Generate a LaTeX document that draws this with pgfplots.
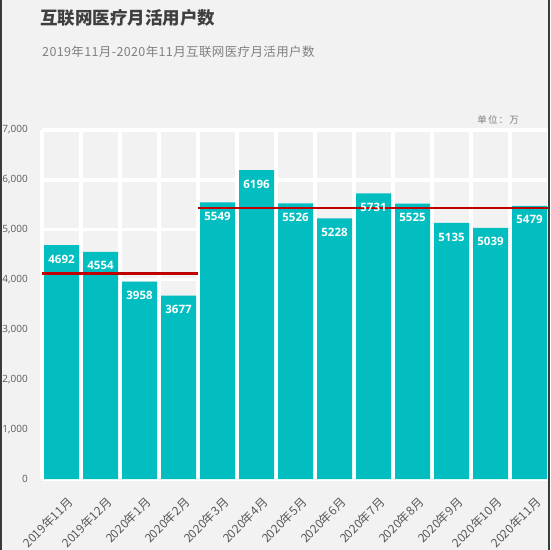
\documentclass[border=0pt]{standalone}
\usepackage{fontspec}
\usepackage{pgfplots}
\pgfplotsset{compat=1.18}
\setmainfont{Open Sans}
\newfontfamily\cjk{Noto Sans CJK SC}
\newfontfamily\cjksp{Noto Sans CJK SC}[LetterSpace=3]
\newfontfamily\cjkunit{Noto Sans CJK SC}[LetterSpace=12]
\definecolor{bg}{HTML}{F2F2F2}
\definecolor{barc}{HTML}{03BEC1}
\definecolor{redl}{HTML}{C00000}
\definecolor{tickc}{HTML}{595959}
\definecolor{subc}{HTML}{808080}
\definecolor{titc}{HTML}{3F3F3F}
\definecolor{frame}{HTML}{3A3A3A}
\begin{document}
\begin{tikzpicture}
\fill[bg] (0,0) rectangle (550pt,550pt);
\begin{axis}[
  at={(42pt,71pt)}, anchor=south west,
  scale only axis, width=507pt, height=349pt,
  xmin=-0.5, xmax=12.5, ymin=0, ymax=7000,
  axis line style={draw=none},
  major tick length=0pt, minor tick length=0pt,
  xtick={0,...,12},
  xticklabels={2019年11月,2019年12月,2020年1月,2020年2月,2020年3月,2020年4月,2020年5月,2020年6月,2020年7月,2020年8月,2020年9月,2020年10月,2020年11月},
  minor xtick={-0.5,0.5,...,12.5},
  ytick={0,1000,...,7000},
  xminorgrids, ymajorgrids,
  major grid style={white, line width=3.5pt},
  minor grid style={white, line width=3.5pt},
  scaled y ticks=false,
  /pgf/number format/assume math mode=true,
  yticklabel style={/pgf/number format/1000 sep={,}, font=\fontsize{10}{12}\selectfont, text=tickc, anchor=east, inner sep=0pt, xshift=-14pt},
  xticklabel style={font=\cjk\fontsize{12}{14}\selectfont, text=tickc, inner sep=0pt, xshift=5pt, yshift=-17pt, rotate=45, anchor=north east},
]
\addplot[ybar, bar width=35pt, fill=barc, draw=none,
  nodes near coords={\pgfmathprintnumber[1000 sep={}]{\pgfplotspointmeta}},
  nodes near coords style={anchor=north, inner sep=0pt, yshift=-9.5pt, text=white, font=\bfseries\fontsize{11.5}{13}\selectfont}]
  coordinates {(0,4692) (1,4554) (2,3958) (3,3677) (4,5549) (5,6196) (6,5526) (7,5228) (8,5731) (9,5525) (10,5135) (11,5039) (12,5479)};
\addplot[sharp plot, no marks, redl, line width=2.5pt] coordinates {(-0.5,4120) (3.5,4120)};
\addplot[sharp plot, no marks, redl, line width=2.5pt] coordinates {(3.5,5440) (12.5,5440)};
\end{axis}
\node[anchor=west, inner sep=0pt, text=titc, font=\cjk\bfseries\fontsize{17.5}{20}\selectfont] at (40pt,532pt) {互联网医疗月活用户数};
\node[anchor=west, inner sep=0pt, text=subc, font=\cjksp\fontsize{12.5}{14}\selectfont] at (42pt,498pt) {2019年11月-2020年11月互联网医疗月活用户数};
\node[anchor=east, inner sep=0pt, text=subc, font=\cjkunit\fontsize{9.5}{11}\selectfont] at (519pt,430pt) {单位：万};
\draw[frame, line width=2pt] (1pt,0) -- (1pt,550pt);
\draw[frame, line width=2pt] (549pt,0) -- (549pt,550pt);
\pgfresetboundingbox
\useasboundingbox (0,0) rectangle (550pt,550pt);
\end{tikzpicture}
\end{document}
